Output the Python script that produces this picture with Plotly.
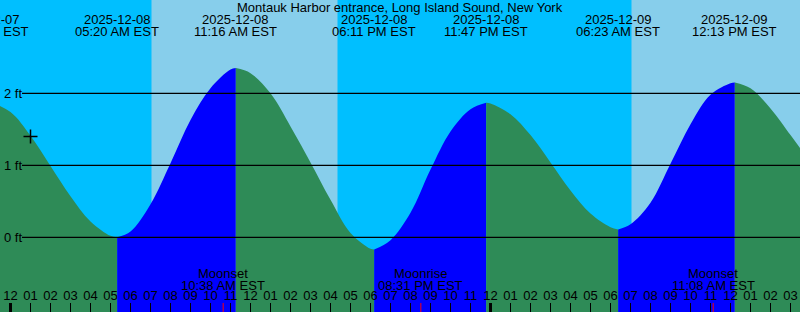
import pandas as pd
import plotly.graph_objects as go

# ---------------- data ----------------
title = "Montauk Harbor entrance, Long Island Sound, New York"

# tide extremes (time, height ft, label)
event_times = ["2025-12-07 22:49", "2025-12-08 05:20", "2025-12-08 11:16", "2025-12-08 18:11",
               "2025-12-08 23:47", "2025-12-09 06:23", "2025-12-09 12:13"]
event_heights = [1.90, 0.00, 2.35, -0.17, 1.87, 0.11, 2.15]
event_dates = ["2025-12-07", "2025-12-08", "2025-12-08", "2025-12-08", "2025-12-08", "2025-12-09", "2025-12-09"]
event_clock = ["10:49 PM EST", "05:20 AM EST", "11:16 AM EST", "06:11 PM EST", "11:47 PM EST",
               "06:23 AM EST", "12:13 PM EST"]

# hourly readings of the tide curve (ft)
sample_times = [
    "2025-12-08 00:00", "2025-12-08 01:00", "2025-12-08 02:00", "2025-12-08 03:00", "2025-12-08 04:00",
    "2025-12-08 05:00", "2025-12-08 06:00", "2025-12-08 07:00", "2025-12-08 08:00", "2025-12-08 09:00",
    "2025-12-08 10:00", "2025-12-08 11:00", "2025-12-08 12:00", "2025-12-08 13:00", "2025-12-08 14:00",
    "2025-12-08 15:00", "2025-12-08 16:00", "2025-12-08 17:00", "2025-12-08 18:00", "2025-12-08 19:00",
    "2025-12-08 20:00", "2025-12-08 21:00", "2025-12-08 22:00", "2025-12-08 23:00",
    "2025-12-09 00:00", "2025-12-09 01:00", "2025-12-09 02:00", "2025-12-09 03:00", "2025-12-09 04:00",
    "2025-12-09 05:00", "2025-12-09 06:00", "2025-12-09 07:00", "2025-12-09 08:00", "2025-12-09 09:00",
    "2025-12-09 10:00", "2025-12-09 11:00", "2025-12-09 12:00", "2025-12-09 13:00", "2025-12-09 14:00",
    "2025-12-09 15:00", "2025-12-09 15:30"]
sample_heights = [
    1.74, 1.41, 0.99, 0.57, 0.22,
    0.02, 0.08, 0.46, 1.03, 1.63,
    2.07, 2.33, 2.28, 2.00, 1.54,
    1.04, 0.52, 0.06, -0.16, -0.04,
    0.34, 0.94, 1.47, 1.78,
    1.86, 1.71, 1.42, 1.04, 0.65,
    0.33, 0.14, 0.18, 0.48, 1.02,
    1.57, 1.98, 2.14, 2.07, 1.79,
    1.42, 1.23]

# sun: sunrise / sunset
sunrise_times = ["2025-12-08 07:03", "2025-12-09 07:03"]
sunset_times = ["2025-12-08 16:21"]

# moon events
moon_times = ["2025-12-08 10:38", "2025-12-08 20:31", "2025-12-09 11:08"]
moon_names = ["Moonset", "Moonrise", "Moonset"]
moon_clock = ["10:38 AM EST", "08:31 PM EST", "11:08 AM EST"]

midnights = ["2025-12-08 00:00", "2025-12-09 00:00"]

now_time = ["2025-12-08 01:00"]
now_height = [1.40]

y_ticks = [0, 1, 2]
y_tick_text = ["0 ft", "1 ft", "2 ft"]

# ---------------- styling ----------------
NIGHT = "#00BFFF"
DAY = "#87CEEB"
RISE = "#0000FF"
FALL = "#2E8B57"
FONT = "Liberation Sans"
FS = 13
W, H = 800, 312

px_per_hour = 20.0
x_start = pd.Timestamp(midnights[0]) - pd.Timedelta(hours=10.5 / px_per_hour)
x_end = x_start + pd.Timedelta(hours=W / px_per_hour)
y_zero_px, px_per_ft = 237.3, 72.0
y_top = y_zero_px / px_per_ft
y_bot = -(H - y_zero_px) / px_per_ft


def to_paper_x(t):
    t = pd.Timestamp(t)
    return (t - x_start) / (x_end - x_start)


fig = go.Figure()

# combine curve points
pts = [(pd.Timestamp(t), h, True) for t, h in zip(event_times, event_heights)]
pts += [(pd.Timestamp(t), h, False) for t, h in zip(sample_times, sample_heights)]
pts.sort(key=lambda p: p[0])
ext_idx = [i for i, p in enumerate(pts) if p[2]]
ext_idx.append(len(pts) - 1)

for a, b in zip(ext_idx[:-1], ext_idx[1:]):
    seg = pts[a:b + 1]
    xs = [p[0] for p in seg]
    ys = [p[1] for p in seg]
    color = RISE if ys[-1] > ys[0] else FALL
    fig.add_trace(go.Scatter(x=[xs[0], xs[-1]], y=[y_bot - 0.5, y_bot - 0.5], mode="lines",
                             line=dict(width=0), showlegend=False, hoverinfo="skip"))
    fig.add_trace(go.Scatter(x=xs, y=ys, mode="lines", line=dict(width=0, shape="spline", smoothing=1.0),
                             fill="tonexty", fillcolor=color, showlegend=False, hoverinfo="skip"))

# now marker
fig.add_trace(go.Scatter(x=now_time, y=now_height, mode="markers",
                         marker=dict(symbol="cross-thin", size=10, line=dict(width=1.5, color="black")),
                         showlegend=False, hoverinfo="skip"))

shapes = []
# daylight bands
for sr, ss in zip(sunrise_times, sunset_times + [x_end]):
    shapes.append(dict(type="rect", xref="x", yref="paper", x0=sr, x1=ss, y0=0, y1=1,
                       fillcolor=DAY, line=dict(width=0), layer="below"))
# grid lines
for v in y_ticks:
    shapes.append(dict(type="line", xref="paper", yref="y", x0=22 / W, x1=1, y0=v, y1=v,
                       line=dict(color="black", width=1.2), layer="above"))
# midnight ticks
for m in midnights:
    shapes.append(dict(type="line", xref="x", yref="paper", x0=m, x1=m, y0=0, y1=9 / H,
                       line=dict(color="black", width=3), layer="above"))
# moon ticks
for m in moon_times:
    shapes.append(dict(type="line", xref="x", yref="paper", x0=m, x1=m, y0=0, y1=9 / H,
                       line=dict(color="red", width=1), layer="above"))

ann = []
ann.append(dict(text=title, x=0.5, y=1 - 7 / H, xref="paper", yref="paper",
                xanchor="center", yanchor="middle", showarrow=False))
for t, d, c in zip(event_times, event_dates, event_clock):
    px = to_paper_x(t)
    ann.append(dict(text=d, x=px, y=1 - 19 / H, xref="paper", yref="paper",
                    xanchor="center", yanchor="middle", showarrow=False))
    ann.append(dict(text=c, x=px, y=1 - 32 / H, xref="paper", yref="paper",
                    xanchor="center", yanchor="middle", showarrow=False))
for t, n, c in zip(moon_times, moon_names, moon_clock):
    ann.append(dict(text=n, x=t, y=1 - 273 / H, xref="x", yref="paper",
                    xanchor="center", yanchor="middle", showarrow=False))
    ann.append(dict(text=c, x=t, y=1 - 285 / H, xref="x", yref="paper",
                    xanchor="center", yanchor="middle", showarrow=False))
for v, s in zip(y_ticks, y_tick_text):
    ann.append(dict(text=s, x=2 / W, y=v, xref="paper", yref="y",
                    xanchor="left", yanchor="middle", showarrow=False))

fig.update_layout(
    width=W, height=H, margin=dict(l=0, r=0, t=0, b=0, pad=0),
    plot_bgcolor=NIGHT, paper_bgcolor=NIGHT,
    font=dict(family=FONT, size=FS, color="black"),
    shapes=shapes, annotations=ann, showlegend=False,
    xaxis=dict(type="date", range=[x_start, x_end], tickformat="%I", dtick=3600000,
               tick0=midnights[0], ticks="inside", ticklen=9, tickwidth=1, tickcolor="black",
               ticklabelposition="inside", showgrid=False, zeroline=False, showline=False,
               tickfont=dict(family=FONT, size=FS, color="black")),
    yaxis=dict(range=[y_bot, y_top], showticklabels=False,
               ticks="", showgrid=False, zeroline=False, showline=False),
)

fig.write_html("out.html")
